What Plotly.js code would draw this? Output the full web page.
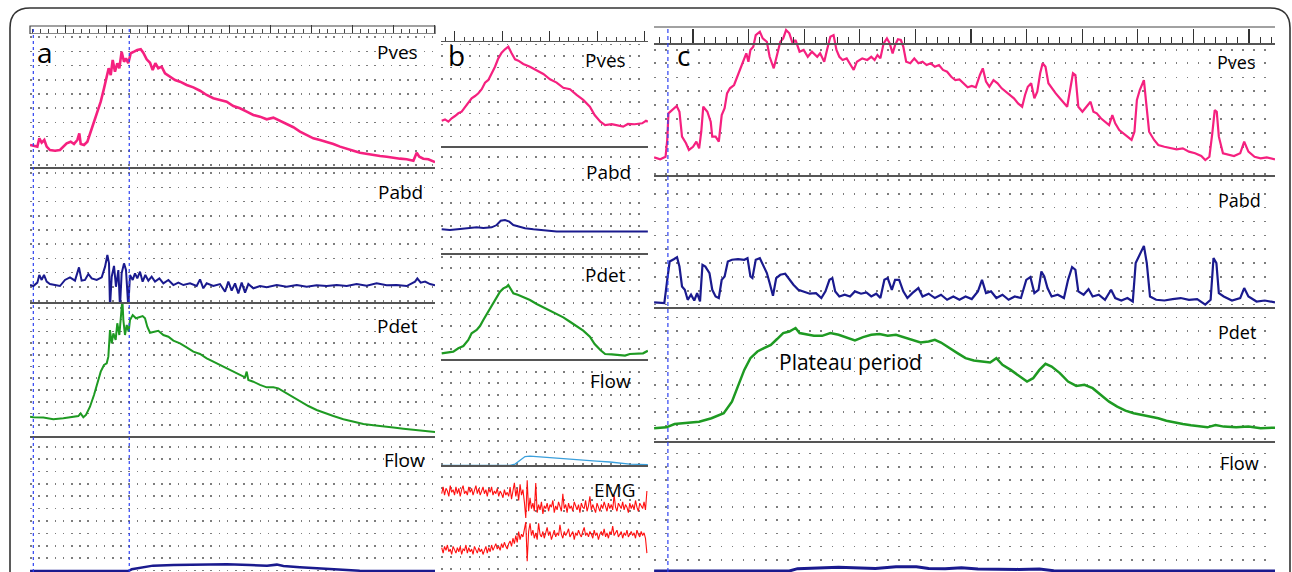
<!DOCTYPE html>
<html>
<head>
<meta charset="utf-8">
<script src="https://cdn.plot.ly/plotly-3.0.1.min.js"></script>
<style>html,body{margin:0;padding:0;background:#fff;}#chart{width:1292px;height:572px;}</style>
</head>
<body>
<div id="chart"></div>
<script>
// ---------------- DATA (time in ruler minor units, pressure in grid units) ----------------
// Panel a
const aPvesT = [-0.30,0.10,0.59,0.83,1.12,1.44,1.73,2.13,2.74,3.35,3.76,4.17,4.66,5.06,5.47,5.71,5.88,6.28,6.69,7.10,7.50,7.91,8.32,8.72,9.05,9.29,9.54,9.78,10.06,10.34,10.59,10.87,11.16,11.40,11.68,11.98,12.38,12.78,13.20,13.51,13.92,14.33,14.66,14.98,15.34,15.75,16.16,16.77,17.38,17.99,18.80,19.61,20.43,21.24,22.05,22.87,23.68,24.49,25.30,26.12,26.93,27.74,28.56,29.37,30.18,31.00,31.81,32.62,33.44,34.25,35.06,35.88,36.69,37.50,38.32,39.13,39.94,40.76,41.57,42.38,43.20,44.01,44.82,45.63,46.45,46.85,47.17,47.66,48.27,49.09];
const aPvesV = [17.0,16.3,15.8,21.7,18.6,20.5,15.8,13.4,12.9,13.4,15.8,18.1,19.3,17.7,20.5,25.2,17.7,17.0,19.3,26.4,32.3,39.4,47.6,57.0,64.1,71.2,66.4,77.0,68.8,74.7,71.2,82.9,75.8,78.2,74.7,81.8,82.9,84.1,84.6,82.2,77.5,75.1,70.0,74.7,71.2,72.3,67.6,65.2,62.9,61.7,59.4,57.7,55.3,52.3,50.0,48.8,47.6,44.5,42.9,40.5,38.2,37.0,35.1,36.3,34.2,31.8,29.5,26.4,24.0,21.7,20.5,19.3,17.7,15.8,14.6,12.9,11.5,10.6,9.9,9.2,8.7,7.8,7.3,6.9,5.9,11.5,8.7,7.3,6.9,4.9];
const aPabdT = [-0.30,0.10,0.59,0.83,1.12,1.40,1.73,2.13,2.74,3.35,3.96,4.57,5.18,5.67,5.99,6.40,6.81,7.22,7.83,8.44,8.85,9.13,9.33,9.45,9.66,9.94,10.18,10.47,10.67,10.87,11.16,11.40,11.68,11.89,12.22,12.50,12.78,13.11,13.43,13.76,14.13,14.53,14.94,15.47,15.96,16.57,17.18,17.79,18.40,19.21,20.02,20.43,20.83,21.24,22.05,22.87,23.48,23.88,24.29,24.70,25.10,25.51,25.92,26.32,26.93,27.74,28.56,29.78,31.00,32.22,33.44,34.65,35.88,37.09,38.32,39.53,40.75,41.97,43.19,44.41,45.63,46.65,46.93,47.34,47.87,48.48,49.09];
const aPabdV = [13.4,12.7,15.1,20.5,17.0,20.5,15.8,14.1,13.4,12.7,17.0,18.8,16.5,25.9,16.5,17.0,21.2,18.1,17.0,18.8,26.4,34.6,28.7,-2,19.3,26.9,12.2,24.0,-2,21.7,28.7,24.0,-2,20.5,17.0,21.7,18.1,22.8,15.8,20.5,16.5,19.3,15.8,18.1,14.6,17.0,13.4,15.1,13.4,14.6,12.7,17.4,11.1,14.6,12.7,14.1,8.7,15.8,9.4,14.6,7.5,15.1,8.0,14.1,11.1,12.7,11.8,13.4,12.2,13.4,12.2,13.2,12.7,13.4,12.7,14.1,12.9,14.6,13.2,13.4,12.7,15.8,18.1,15.1,15.8,14.1,13.2];
const aPdetT = [-0.30,0.10,1.32,2.54,3.76,4.78,5.59,5.87,6.20,6.52,7.01,7.50,7.91,8.32,8.72,9.05,9.25,9.45,9.66,9.86,10.14,10.34,10.59,10.79,10.96,11.08,11.28,11.49,11.73,11.89,12.22,12.62,13.03,13.43,13.72,14.00,14.33,14.82,15.34,15.96,16.57,17.18,17.99,18.80,19.61,20.43,21.24,22.05,22.87,23.68,24.49,25.30,25.92,26.12,26.32,26.93,27.74,28.56,29.37,29.98,31.00,31.81,32.62,33.64,34.65,35.67,36.69,37.91,39.13,40.35,41.57,42.79,44.01,45.23,46.45,47.66,49.09];
const aPdetV = [15.1,14.6,14.4,13.2,13.9,14.6,15.5,17.4,14.6,16.3,22.1,30.4,38.7,46.9,51.6,52.8,57.5,76.3,66.9,74.0,69.3,81.1,72.8,90.5,98,83.4,72.8,79.9,75.1,83.4,86.9,84.6,85.3,86.2,84.6,78.7,74.4,75.1,75.8,72.8,71.6,68.8,66.9,64.1,61.0,59.4,56.3,53.9,51.6,49.3,46.9,45.2,42.9,46.9,41.0,39.8,37.5,35.8,35.8,35.1,31.6,28.7,25.7,22.6,19.8,17.4,15.5,13.2,11.5,9.9,9.0,8.5,7.5,6.6,5.7,5.2,4.2];
const aFlowT = [-0.30,11.68,12.1,14.1,14.7,17.2,20.4,23.7,26.5,28.6,29.8,30.6,32.6,35.1,37.5,39.9,49.09];
const aFlowV = [0.7,0.7,1.9,3.8,4.5,4.9,5.4,5.4,4.9,4.5,5.2,4.2,3.3,2.4,1.4,0.9,0.7];
const aEvents = [0.1, 11.8];

// Panel b
const bPvesT = [-1.40,-1.05,-0.70,-0.35,0.0,0.35,0.70,1.05,1.40,1.75,2.11,2.46,2.81,3.16,3.51,3.86,4.21,4.56,4.91,5.26,5.61,5.96,6.32,6.67,7.19,7.89,8.60,9.30,10.0,10.7,11.4,12.1,12.8,13.5,14.2,14.7,15.3,15.8,16.5,17.2,17.7,18.2,18.9,19.7,20.1,20.3];
const bPvesV = [20.2,21.2,19.5,22.0,23.7,25.7,26.9,30.1,33.1,36.8,38.5,40.5,43.5,48.4,50.4,54.8,60.2,66.4,70.6,73.1,75.0,70.1,65.7,64.7,62.2,60.2,57.3,54.8,50.9,48.4,44.6,43.5,39.3,35.6,30.6,24.4,19.5,17.0,17.6,16.8,15.8,17.8,17.6,18.3,20.2,19.5];
const bPabdT = [-1.40,-0.53,0.53,1.58,2.28,2.98,3.86,4.39,4.81,5.26,5.72,6.14,6.67,7.37,8.25,9.30,10.7,13.2,16.7,20.3];
const bPabdV = [19.0,18.5,19.3,20.0,20.5,20.0,20.5,22.2,25.4,25.9,24.7,22.2,21.0,19.8,19.0,18.5,17.5,17.5,17.5,17.5];
const bPdetT = [-1.40,-0.70,-0.18,0.35,0.88,1.40,1.75,2.28,2.63,2.98,3.33,3.68,4.04,4.39,4.74,5.09,5.44,5.61,5.86,6.14,6.67,7.19,7.89,8.60,9.30,10.0,10.7,11.4,12.1,12.8,13.5,14.2,14.7,15.3,15.8,16.5,17.2,17.9,18.4,19.1,19.8,20.3];
const bPdetV = [5.7,6.2,6.9,9.4,11.1,15.6,20.5,23.0,25.9,30.4,34.8,39.0,43.2,47.6,51.4,53.8,55.0,56.3,53.1,50.1,48.9,47.2,45.2,42.2,39.8,37.3,34.8,32.3,29.1,25.9,22.5,18.0,12.6,8.1,5.2,4.9,4.4,4.0,5.2,5.7,5.7,7.6];
const bFlowT = [-1.40,5.79,6.32,6.84,7.37,7.89,8.60,9.65,10.7,12.1,13.5,14.9,16.3,17.4,18.4,20.3];
const bFlowV = [1.2,1.2,2.2,5.2,7.7,8.1,7.7,7.2,6.4,5.7,4.7,4.4,3.7,2.7,2.2,1.7];
const bEmgT = [-1.40,-1.25,-1.10,-0.95,-0.80,-0.65,-0.50,-0.35,-0.20,-0.05,0.10,0.25,0.40,0.55,0.70,0.85,1.00,1.15,1.30,1.45,1.60,1.75,1.90,2.05,2.20,2.35,2.50,2.65,2.80,2.95,3.10,3.25,3.40,3.55,3.70,3.85,4.00,4.15,4.30,4.45,4.60,4.75,4.90,5.05,5.20,5.35,5.50,5.65,5.80,5.95,6.10,6.25,6.40,6.55,6.70,6.85,7.00,7.15,7.30,7.45,7.60,7.75,7.90,8.05,8.20,8.35,8.50,8.65,8.80,8.95,9.10,9.25,9.40,9.55,9.70,9.85,10.00,10.15,10.30,10.45,10.60,10.75,10.90,11.05,11.20,11.35,11.50,11.65,11.80,11.95,12.10,12.25,12.40,12.55,12.70,12.85,13.00,13.15,13.30,13.45,13.60,13.75,13.90,14.05,14.20,14.35,14.50,14.65,14.80,14.95,15.10,15.25,15.40,15.55,15.70,15.85,16.00,16.15,16.30,16.45,16.60,16.75,16.90,17.05,17.20,17.35,17.50,17.65,17.80,17.95,18.10,18.25,18.40,18.55,18.70,18.85,19.00,19.15,19.30,19.45,19.60,19.75,19.90,20.05,20.20];
const bEmgUpper = [58,63,57,62,60,56,64,59,61,57,63,58,62,56,61,64,58,60,57,63,59,62,57,61,64,58,62,57,60,63,58,61,56,62,59,63,57,60,58,62,56,60,58,55,61,57,59,56,63,54,60,66,56,62,53,65,57,61,52,40,68,45,55,47,51,45,66,44,50,46,52,43,49,47,51,45,50,48,53,44,49,46,52,48,45,58,47,50,44,51,47,49,45,52,48,46,50,44,51,48,47,53,45,49,56,46,50,47,44,51,48,45,50,47,52,49,45,51,47,50,46,57,48,45,51,49,47,52,46,50,48,44,51,47,50,46,53,48,45,51,49,47,52,46,60];
const bEmgLower = [18,14,19,16,20,15,17,13,19,16,14,18,15,19,13,17,16,20,14,18,15,17,13,19,16,14,18,15,17,13,16,19,14,18,15,20,16,18,21,17,19,16,21,18,22,19,17,21,23,19,25,21,27,22,30,24,28,26,33,37,8,30,36,27,31,25,29,24,36,28,26,30,25,29,33,27,30,24,28,31,26,29,27,35,28,25,30,27,29,32,26,28,30,24,29,27,31,28,26,30,33,27,29,26,30,28,25,31,27,29,24,28,30,27,32,26,29,25,30,28,34,27,29,31,26,28,30,25,29,27,31,26,28,30,27,29,25,31,28,26,30,27,29,25,14];

// Panel c
const cPvesT = [-3.50,-2.95,-2.47,-2.32,-2.21,-1.84,-1.47,-1.22,-0.99,-0.63,-0.37,0.0,0.30,0.55,0.74,0.92,1.29,1.59,1.73,2.03,2.32,2.58,2.84,3.06,3.32,3.69,4.05,4.42,4.79,4.98,5.16,5.42,5.64,6.01,6.27,6.64,6.89,7.26,7.56,7.85,8.11,8.37,8.66,8.96,9.22,9.58,9.95,10.32,10.69,11.17,11.43,11.80,12.05,12.35,12.64,12.90,13.16,13.45,13.82,14.19,14.45,14.74,15.22,15.67,16.03,16.33,16.59,16.85,17.14,17.44,17.69,17.95,18.17,18.43,18.69,18.91,19.17,19.54,19.90,20.27,20.64,21.01,21.38,21.75,22.12,22.48,22.85,23.22,23.59,23.96,24.33,24.70,25.07,25.43,25.80,26.06,26.35,26.65,27.02,27.39,27.76,28.12,28.49,28.86,29.23,29.60,29.86,30.11,30.41,30.70,30.96,31.22,31.44,31.70,31.96,32.25,32.62,32.99,33.36,33.65,33.91,34.17,34.39,34.65,35.02,35.39,35.75,36.01,36.31,36.68,37.05,37.42,37.71,37.97,38.33,38.70,39.07,39.44,39.70,39.92,40.18,40.55,40.73,41.02,41.47,41.84,42.39,42.94,43.49,44.05,44.60,45.15,45.71,46.07,46.44,46.70,46.92,47.10,47.29,47.66,48.17,48.65,49.21,49.57,49.95,50.50,51.05,51.60,52.34];
const cPvesV = [13.6,12.2,14.0,25.6,44.0,46.3,49.1,45.1,27.9,23.3,18.7,20.9,24.4,19.8,31.3,48.6,45.1,38.2,27.9,27.9,24.4,42.8,47.5,57.8,61.3,63.6,70.5,77.4,85.5,79.7,87.8,90.1,98.1,100.4,95.8,93.5,83.1,75.1,85.5,93.5,95.8,101.6,99.3,92.4,94.7,86.6,87.8,83.1,86.6,83.1,85.5,79.7,87.8,96.9,98.1,87.8,83.1,80.9,82.0,77.4,74.0,79.7,82.0,80.9,83.1,80.9,84.3,82.0,92.4,95.8,92.4,85.5,91.2,95.2,94.7,90.1,79.7,78.6,82.0,78.6,79.7,77.4,78.6,76.2,77.4,74.0,72.8,69.3,67.0,67.5,64.8,62.0,62.9,62.0,70.5,75.1,65.9,62.4,67.0,64.8,61.3,59.0,56.7,54.4,50.9,48.6,56.7,62.4,64.8,54.4,59.0,71.7,78.6,76.2,64.8,61.3,57.8,54.4,50.9,48.6,60.1,71.7,70.5,48.6,45.1,48.6,52.0,45.1,44.0,40.6,38.2,35.9,42.8,37.1,32.5,30.2,27.9,25.6,31.3,53.2,60.1,67.0,53.2,31.3,25.6,22.1,20.9,19.8,19.1,19.8,17.5,16.4,14.5,11.7,14.0,30.2,46.3,45.1,27.9,16.4,15.2,14.5,16.4,24.4,17.5,14.0,12.9,13.6,12.2];
const cPabdT = [-3.50,-2.58,-2.32,-2.10,-1.73,-1.44,-1.22,-0.99,-0.74,-0.48,-0.18,0.11,0.37,0.63,0.85,1.11,1.48,1.73,2.03,2.32,2.58,2.84,3.13,3.50,4.05,4.61,4.90,5.16,5.34,5.64,6.01,6.38,6.64,6.89,7.19,7.48,7.85,8.29,8.66,9.03,9.47,9.95,10.50,11.06,11.54,11.91,12.27,12.53,12.79,13.16,13.64,14.12,14.56,15.11,15.59,16.03,16.48,16.85,17.21,17.51,17.88,18.17,18.54,18.91,19.28,19.72,20.27,20.64,21.19,21.75,22.30,22.85,23.41,23.96,24.51,25.07,25.62,25.99,26.35,26.80,27.28,27.83,28.38,28.94,29.49,29.97,30.34,30.70,31.07,31.33,31.59,31.88,32.25,32.80,33.36,33.73,34.09,34.39,34.65,35.13,35.57,35.94,36.49,37.05,37.60,37.97,38.52,39.07,39.55,39.81,40.18,40.55,40.81,41.10,41.65,42.39,43.13,43.86,44.60,45.34,46.07,46.55,46.81,47.07,47.29,47.73,48.47,49.21,49.57,49.95,50.68,51.42,52.34];
const cPabdV = [4.4,3.9,20.0,32.7,34.3,35.7,29.2,15.4,13.1,6.2,9.7,5.7,10.8,5.0,30.4,29.2,24.7,13.1,8.5,7.4,20.0,22.3,32.7,33.9,34.3,33.9,35.0,22.3,21.2,33.9,35.0,29.2,24.7,17.8,9.0,21.2,23.5,24.2,20.0,16.6,13.1,12.0,10.4,10.8,7.4,12.0,20.0,21.2,12.0,8.5,9.7,8.5,12.0,10.4,11.3,8.5,10.4,7.4,20.0,21.2,13.1,20.0,20.0,12.0,7.4,10.8,14.3,8.5,10.4,7.4,9.7,6.2,8.5,6.2,8.5,6.7,12.0,20.0,10.8,12.0,7.4,9.7,6.2,8.5,7.4,20.0,21.9,10.8,13.1,25.8,22.3,14.3,8.5,9.7,7.4,20.0,28.8,27.0,12.0,9.7,13.6,8.5,9.7,6.2,13.1,7.4,5.7,7.4,5.0,31.6,37.3,43.5,31.6,8.5,6.2,5.7,6.7,7.4,6.2,6.7,2.8,6.2,35.0,31.6,10.8,8.5,5.7,7.4,14.3,8.5,5.0,5.7,4.4];
const cPdetT = [-3.50,-2.40,-1.66,-0.55,0.55,1.66,2.76,3.50,4.05,4.61,5.16,5.79,6.38,7.00,7.56,8.11,8.66,9.22,9.58,10.14,10.87,11.61,12.35,13.09,13.82,14.56,15.30,16.03,16.77,17.51,18.25,18.98,19.72,20.46,21.19,21.75,22.30,23.04,23.78,24.51,25.25,25.99,26.72,27.28,27.83,28.57,29.30,30.04,30.59,31.15,31.70,32.25,32.99,33.73,34.47,35.20,35.94,36.68,37.42,38.15,38.89,39.63,40.36,41.10,41.84,42.57,43.31,44.05,44.78,45.52,46.26,46.99,47.73,48.84,49.95,51.05,52.34];
const cPdetV = [10.2,10.8,13.1,14.0,14.7,17.1,20.5,28.5,38.9,50.4,58.5,63.1,65.4,67.7,71.7,75.8,76.9,79.3,75.8,75.1,73.9,73.9,75.8,74.6,72.4,70.7,73.0,74.6,75.1,73.9,74.6,73.0,71.2,69.3,70.0,71.2,69.3,65.4,62.0,58.5,56.9,56.2,55.5,58.5,53.9,50.4,46.3,42.4,44.7,50.4,54.6,52.7,48.2,42.4,39.4,40.1,37.8,33.2,28.5,25.1,22.3,20.5,19.4,18.2,17.1,15.4,14.0,13.1,12.2,11.3,10.8,12.4,11.3,10.8,11.3,10.2,10.6];
const cFlowT = [-3.50,8.66,9.40,10.87,13.09,16.40,18.25,20.09,21.19,22.67,24.14,25.62,27.46,29.30,31.15,32.44,52.34];
const cFlowV = [0.7,0.7,2.3,2.8,3.2,2.5,3.7,3.7,2.5,2.3,3.0,2.1,1.8,1.8,2.1,0.9,0.7];
const cEvents = [-2.26];
const cPvesGridRows = [2.1,11.3,20.9,30.6,40.1,49.8,59.4,68.9,78.6,87.8];

// channel labels
const panelLetters = ['a','b','c'];
const labelsA = ['Pves','Pabd','Pdet','Flow'];
const labelsB = ['Pves','Pabd','Pdet','Flow','EMG'];
const labelsC = ['Pves','Pabd','Pdet','Flow'];
const plateauText = 'Plateau period';

// ---------------- STYLE / LAYOUT ----------------
const PINK='#f5207f', NAVY='#1a1a8e', GREEN='#1e9a22', LBLUE='#3a9fdc', RED='#ff1010';
const GRIDC='#7d7d7d';
const xa=[0.02322,0.33669], xb=[0.34133,0.50155], xc=[0.50619,0.98684];
const rA=[-0.305,49.085], rB=[-1.474,20.316], rC=[-3.51,52.34];

const layout = {width:1292,height:572,margin:{l:0,r:0,t:0,b:0},paper_bgcolor:'#fff',plot_bgcolor:'rgba(0,0,0,0)',showlegend:false,shapes:[],annotations:[]};

function setAxes(n, xdom, xr, ydom, yr, grid, dash, xExtra){
  const xk = n===1?'xaxis':'xaxis'+n, yk = n===1?'yaxis':'yaxis'+n;
  layout[xk] = Object.assign({domain:xdom,range:xr,anchor:'y'+(n===1?'':n),side:'top',showgrid:false,zeroline:false,showticklabels:false,ticks:'',showline:true,linecolor:'#555',linewidth:2,fixedrange:true}, xExtra||{});
  const y = {domain:ydom,range:yr,anchor:'x'+(n===1?'':n),showgrid:true,gridcolor:GRIDC,gridwidth:1.6,griddash:dash,zeroline:false,showticklabels:false,ticks:'',showline:false,fixedrange:true};
  if(Array.isArray(grid)){y.tickmode='array';y.tickvals=grid;} else {y.tickmode='linear';y.tick0=grid.t0;y.dtick=grid.dt;}
  layout[yk]=y;
}
const dA='1.6px,6.6px', dB='1.6px,7.8px', dC='1.6px,9.5px';
const rulerA = {ticks:'outside',ticklen:8,tickwidth:1,tickcolor:'#333',tickmode:'linear',tick0:4,dtick:5,linecolor:'#888',linewidth:1,
  minor:{ticks:'outside',ticklen:4,tickwidth:1,tickcolor:'#444',tick0:0,dtick:1,showgrid:false}};
const rulerB = {ticks:'outside',ticklen:9.5,tickwidth:1,tickcolor:'#333',tickmode:'linear',tick0:0,dtick:5,linecolor:'#555',linewidth:1.5,
  minor:{ticks:'outside',ticklen:4,tickwidth:1,tickcolor:'#444',tick0:0,dtick:1,showgrid:false}};

// panel a
setAxes(1,xa,rA,[0.70455,0.94056],[0,95.4],{t0:2.76,dt:10.04},dA,rulerA);
setAxes(2,xa,rA,[0.46853,0.70455],[0,95.4],{t0:2.05,dt:10.04},dA);
setAxes(3,xa,rA,[0.23427,0.46853],[0,94.7],{t0:0.7,dt:8.30},dA);
setAxes(4,xa,rA,[0,0.23427],[0,94.7],{t0:0.94,dt:8.76},dA);
// panel b
setAxes(5,xb,rB,[0.74126,0.92657],[0,78.5],{t0:8.4,dt:8.52},dB,rulerB);
setAxes(6,xb,rB,[0.55420,0.74126],[0,79.3],{t0:4.6,dt:8.52},dB);
setAxes(7,xb,rB,[0.36888,0.55420],[0,78.5],{t0:0.5,dt:8.52},dB);
setAxes(8,xb,rB,[0.18357,0.36888],[0,78.5],{t0:2.4,dt:8.52},dB);
setAxes(9,xb,rB,[0,0.18357],[0,77.8],{t0:2.4,dt:8.52},dB);
// panel c
setAxes(10,xc,rC,[0.69056,0.95105],[0,103.0],cPvesGridRows,dC,{showline:false});
setAxes(11,xc,rC,[0.46027,0.69056],[0,91.2],{t0:2.8,dt:9.6},dC);
setAxes(12,xc,rC,[0.22552,0.46027],[0,92.6],{t0:2.8,dt:9.3},dC);
setAxes(13,xc,rC,[0,0.22552],[0,89.2],{t0:8.3,dt:9.2},dC);
layout.xaxis14 = {overlaying:'x10',anchor:'free',position:0.92308,side:'top',range:rC,showgrid:false,zeroline:false,showticklabels:false,
  ticks:'outside',ticklen:14,tickwidth:1.2,tickcolor:'#333',tickmode:'linear',tick0:0,dtick:5,showline:true,linecolor:'#555',linewidth:2,fixedrange:true,
  minor:{ticks:'outside',ticklen:6,tickwidth:1,tickcolor:'#333',tick0:0,dtick:1,showgrid:false}};

// decorations
layout.shapes.push({type:'path',xref:'paper',yref:'paper',path:'M 0.00774,-0.05 L 0.00774,0.95105 Q 0.00774,0.98601 0.02322,0.98601 L 0.98297,0.98601 Q 0.99845,0.98601 0.99845,0.95105 L 0.99845,-0.05',line:{color:'#333',width:1.6}});
layout.shapes.push({type:'path',xref:'paper',yref:'paper',path:'M 0.02322,0.94056 L 0.02322,0.95455 L 0.33669,0.95455 L 0.33669,0.94056',line:{color:'#444',width:1.2}});
layout.shapes.push({type:'line',xref:'paper',yref:'paper',x0:0.50619,x1:0.98684,y0:0.95280,y1:0.95280,line:{color:'#444',width:1.2}});
aEvents.forEach(e=>layout.shapes.push({type:'line',xref:'x',yref:'paper',x0:e,x1:e,y0:0,y1:0.9545,layer:'above',line:{color:'#2f43f2',width:1.2,dash:'3px,3px'}}));
cEvents.forEach(e=>layout.shapes.push({type:'line',xref:'x10',yref:'paper',x0:e,x1:e,y0:0,y1:0.951,layer:'above',line:{color:'#2f43f2',width:1.2,dash:'4px,3px'}}));

// annotations
const F='Open Sans, Noto Sans, sans-serif';
function ann(t,x,y,size){layout.annotations.push({text:t,xref:'paper',yref:'paper',x:x,y:y,xanchor:'center',yanchor:'middle',showarrow:false,font:{family:F,size:size,color:'#000'}});}
ann(panelLetters[0],0.0348,0.9091,28);
ann(panelLetters[1],0.3537,0.9038,28);
ann(panelLetters[2],0.5294,0.9038,28);
[[0.3080,0.9091],[0.3096,0.6643],[0.3073,0.4301],[0.3127,0.1958]].forEach((p,i)=>ann(labelsA[i],p[0],p[1],19));
[[0.4690,0.8951],[0.4706,0.6993],[0.4690,0.5192],[0.4729,0.3339],[0.4760,0.1434]].forEach((p,i)=>ann(labelsB[i],p[0],p[1],19));
[[0.9574,0.8916],[0.9590,0.6503],[0.9574,0.4196],[0.9590,0.1906]].forEach((p,i)=>ann(labelsC[i],p[0],p[1],18));
ann(plateauText,0.6579,0.3671,21);

// traces
function tr(x,y,n,color,w){return {type:'scatter',mode:'lines',x:x,y:y,xaxis:'x'+(n===1?'':n),yaxis:'y'+(n===1?'':n),line:{color:color,width:w},hoverinfo:'skip',showlegend:false};}
const data = [
  tr(aPvesT,aPvesV,1,PINK,2.6), tr(aPabdT,aPabdV,2,NAVY,2), tr(aPdetT,aPdetV,3,GREEN,2), tr(aFlowT,aFlowV,4,NAVY,2.5),
  tr(bPvesT,bPvesV,5,PINK,2.2), tr(bPabdT,bPabdV,6,NAVY,2), tr(bPdetT,bPdetV,7,GREEN,2.2), tr(bFlowT,bFlowV,8,LBLUE,1.3),
  tr(bEmgT,bEmgUpper,9,RED,1.1), tr(bEmgT,bEmgLower,9,RED,1.1),
  tr(cPvesT,cPvesV,10,PINK,2.2), tr(cPabdT,cPabdV,11,NAVY,2.2), tr(cPdetT,cPdetV,12,GREEN,2.5), tr(cFlowT,cFlowV,13,NAVY,3),
  {type:'scatter',mode:'lines',x:[],y:[],xaxis:'x14',yaxis:'y10',hoverinfo:'skip',showlegend:false}
];
Plotly.newPlot('chart',data,layout,{staticPlot:true,displayModeBar:false});
</script>
</body>
</html>
